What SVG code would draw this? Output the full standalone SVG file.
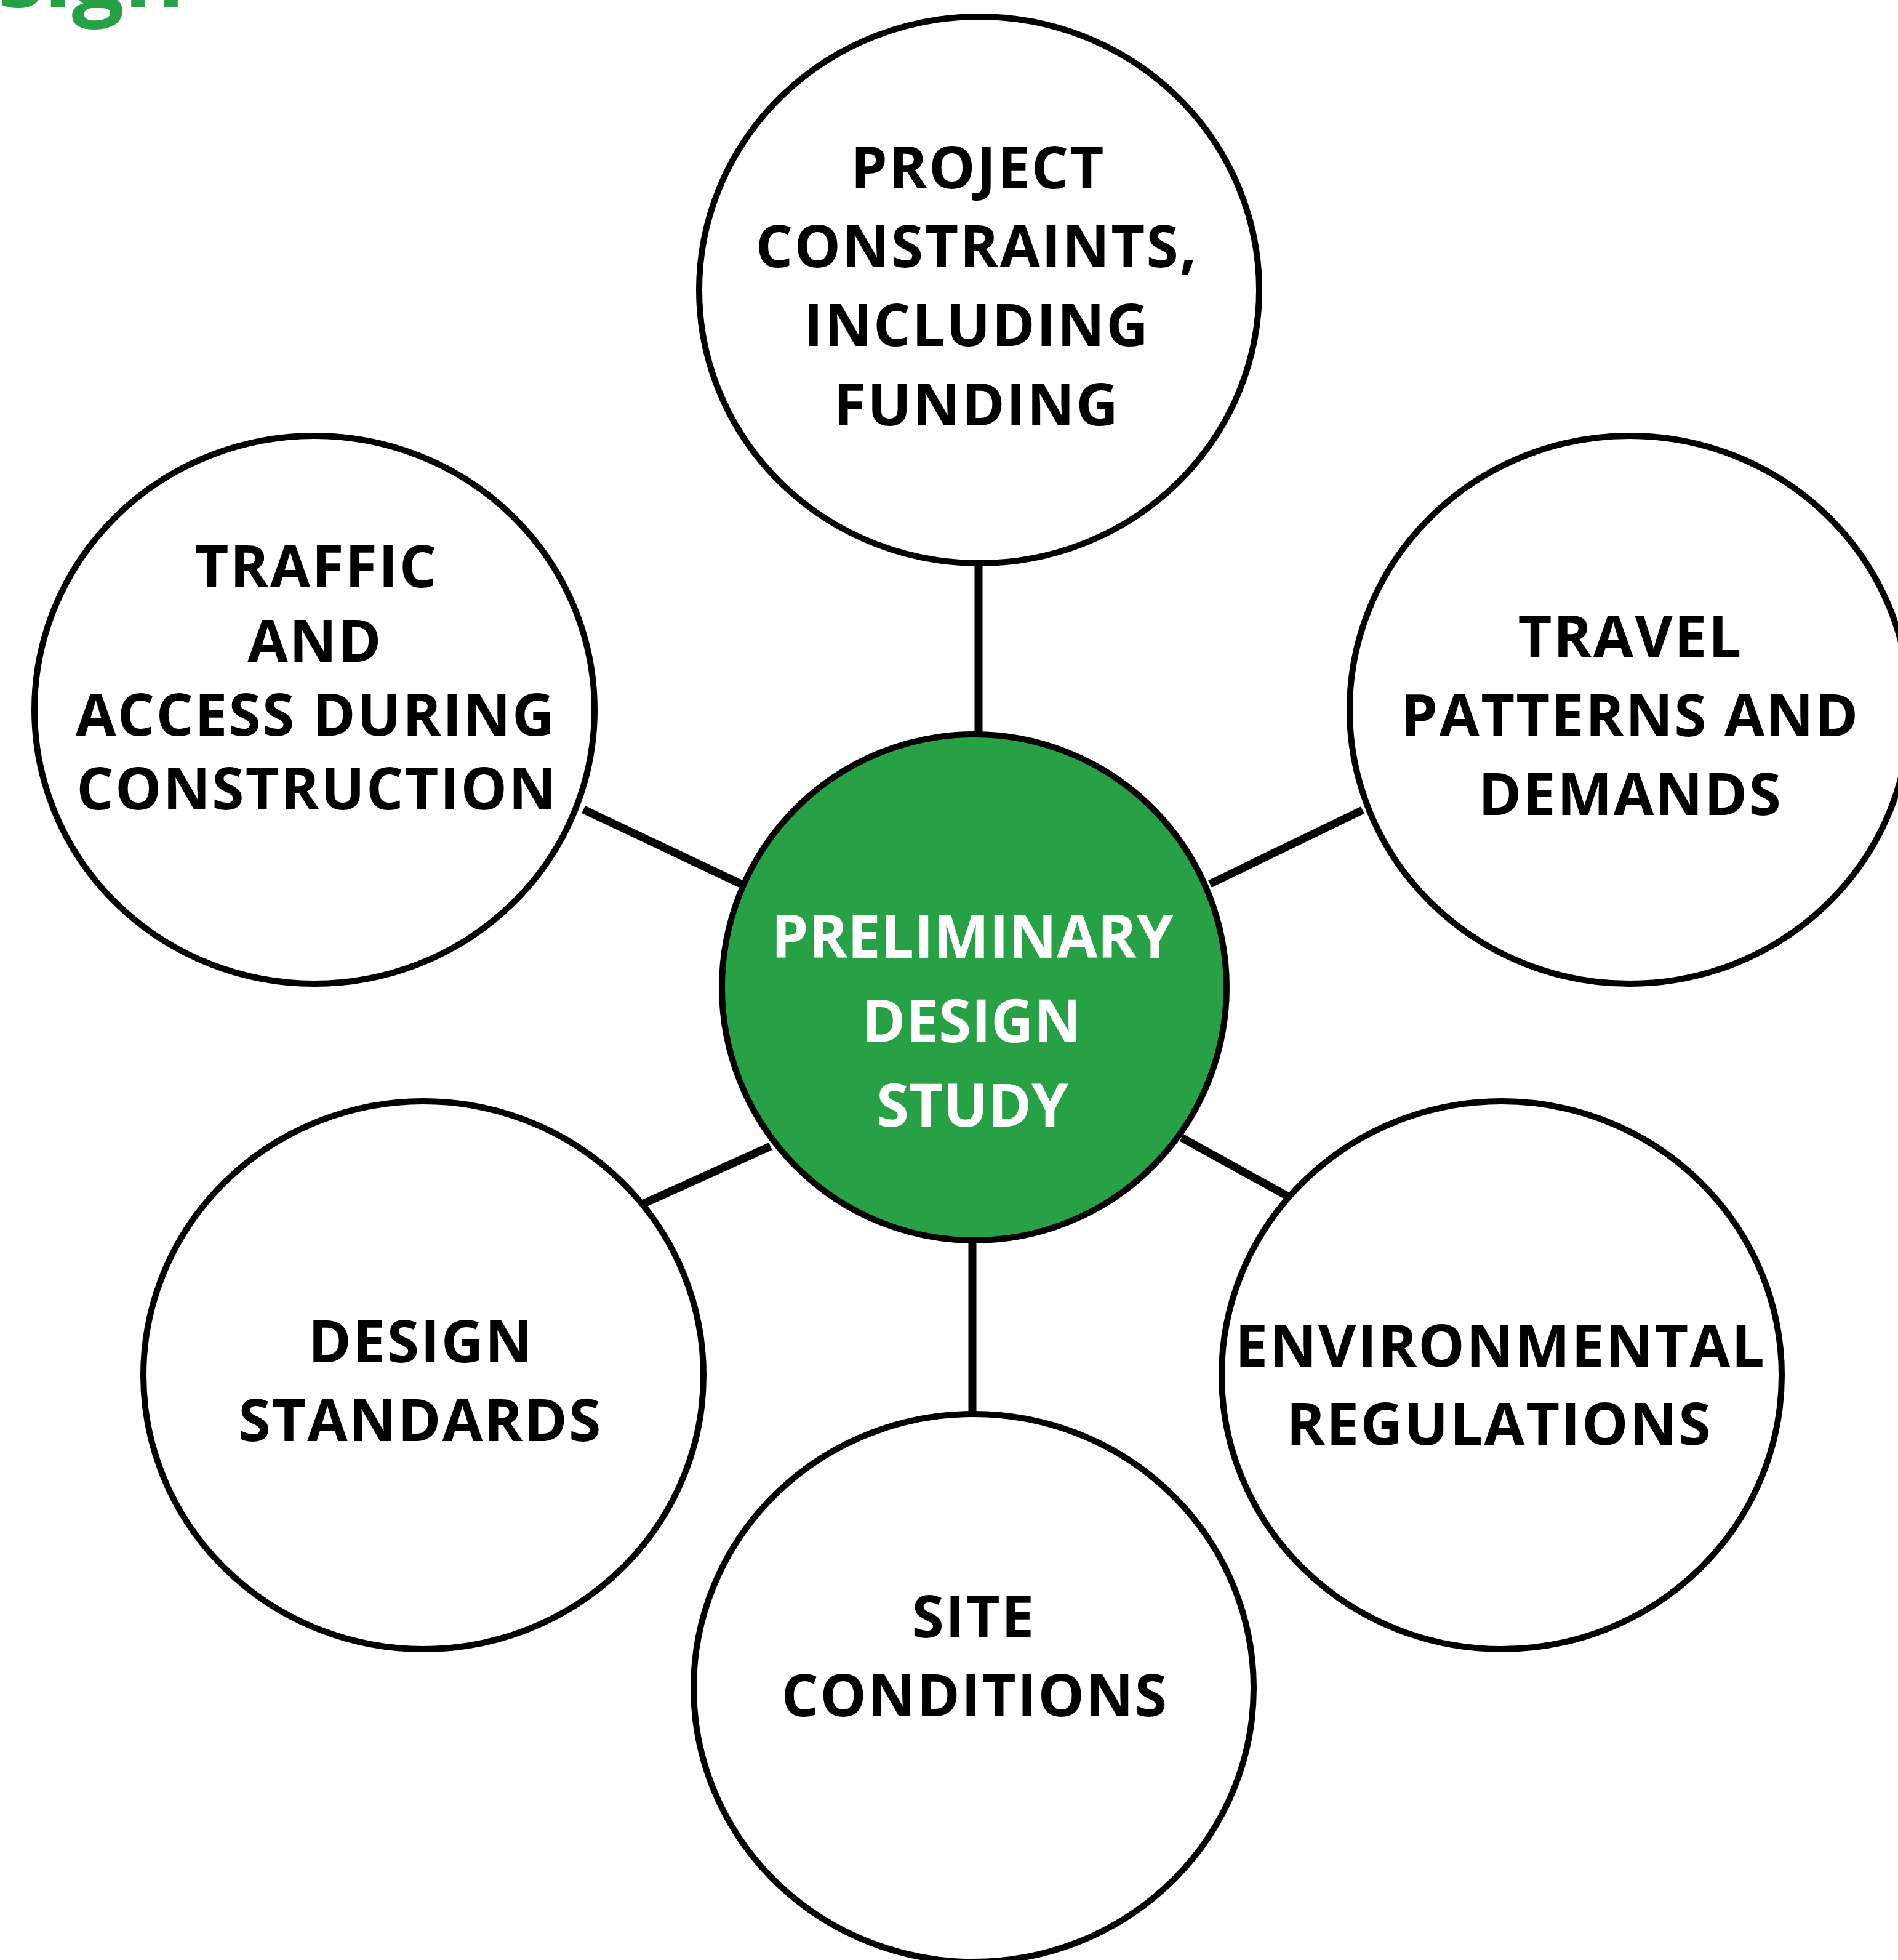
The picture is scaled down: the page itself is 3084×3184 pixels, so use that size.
<svg xmlns="http://www.w3.org/2000/svg" width="3084" height="3184" viewBox="0 0 3084 3184">
<style>
.bg{fill:#ffffff}
.node{fill:#ffffff;stroke:#000000;stroke-width:10}
.hub{fill:#27a046;stroke:#000000;stroke-width:10}
.lbl{font-family:"Open Sans","Liberation Sans",sans-serif;font-weight:700;font-size:95px;letter-spacing:2.2px;fill:#000000;text-anchor:middle}
.hubl{font-family:"Open Sans","Liberation Sans",sans-serif;font-weight:700;font-size:96px;fill:#ffffff;text-anchor:middle}
.title{font-family:"Open Sans","Liberation Sans",sans-serif;font-weight:700;font-size:150px;fill:#27a046;text-anchor:end}
.conn{stroke:#000000;stroke-width:13;fill:none}
</style>
<rect class="bg" x="0" y="0" width="3084" height="3184"/>
<text class="title" x="300" y="12">sign</text>
<g id="connectors">
<line class="conn" x1="1590" y1="918" x2="1590" y2="1192"/>
<line class="conn" x1="1580" y1="2016" x2="1580" y2="2296"/>
<line class="conn" x1="948" y1="1315" x2="1204" y2="1436"/>
<line class="conn" x1="2214" y1="1316" x2="1966" y2="1436"/>
<line class="conn" x1="1044" y1="1956" x2="1252" y2="1862"/>
<line class="conn" x1="2092" y1="1943" x2="1920" y2="1848"/>
</g>
<g id="node-project">
<ellipse class="node" cx="1591" cy="471" rx="455" ry="444"/>
<text class="lbl" x="1589" y="306">PROJECT</text>
<text class="lbl" x="1587" y="434">CONSTRAINTS,</text>
<text class="lbl" x="1587" y="562">INCLUDING</text>
<text class="lbl" x="1587" y="691">FUNDING</text>
</g>
<g id="node-traffic">
<ellipse class="node" cx="511" cy="1153" rx="455" ry="445"/>
<text class="lbl" x="514" y="954">TRAFFIC</text>
<text class="lbl" x="512" y="1075">AND</text>
<text class="lbl" x="513" y="1195">ACCESS DURING</text>
<text class="lbl" x="515" y="1315">CONSTRUCTION</text>
</g>
<g id="node-travel">
<ellipse class="node" cx="2648" cy="1153" rx="455" ry="445"/>
<text class="lbl" x="2649" y="1068">TRAVEL</text>
<text class="lbl" x="2649" y="1196">PATTERNS AND</text>
<text class="lbl" x="2649" y="1324">DEMANDS</text>
</g>
<g id="node-design-standards">
<ellipse class="node" cx="688" cy="2234" rx="455" ry="445"/>
<text class="lbl" x="684" y="2213">DESIGN</text>
<text class="lbl" x="683" y="2341">STANDARDS</text>
</g>
<g id="node-environmental">
<ellipse class="node" cx="2440" cy="2234" rx="455" ry="445"/>
<text class="lbl" x="2438" y="2220">ENVIRONMENTAL</text>
<text class="lbl" x="2436" y="2347">REGULATIONS</text>
</g>
<g id="node-site">
<ellipse class="node" cx="1582" cy="2742" rx="455" ry="445"/>
<text class="lbl" x="1582" y="2660">SITE</text>
<text class="lbl" x="1584" y="2788">CONDITIONS</text>
</g>
<g id="node-center">
<ellipse class="hub" cx="1583" cy="1604" rx="410" ry="411"/>
<text class="hubl" x="1580" y="1556">PRELIMINARY</text>
<text class="hubl" x="1579" y="1693">DESIGN</text>
<text class="hubl" x="1580" y="1830">STUDY</text>
</g>
</svg>
